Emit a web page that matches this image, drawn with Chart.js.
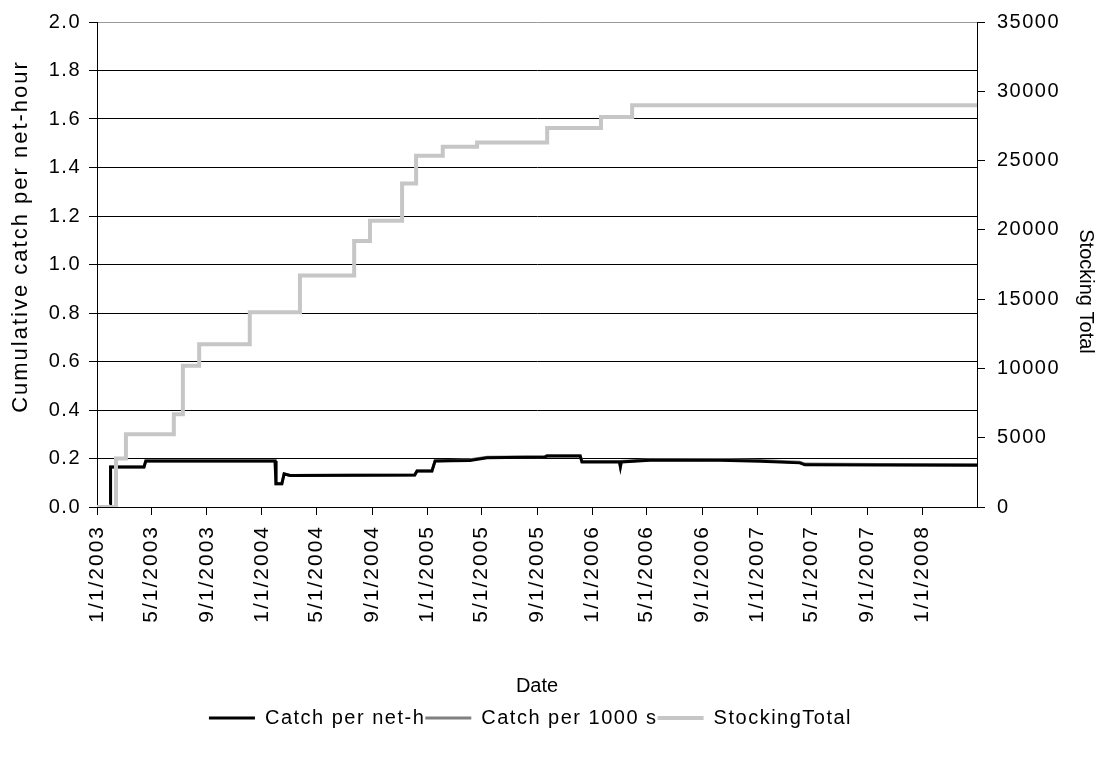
<!DOCTYPE html>
<html>
<head>
<meta charset="utf-8">
<script src="https://cdn.jsdelivr.net/npm/chart.js@4.4.1/dist/chart.umd.min.js"></script>
<style>
  html, body { margin: 0; padding: 0; background: #fff; }
  #wrap { width: 1105px; height: 758px; }
</style>
</head>
<body>
<div id="wrap"><canvas id="chart"></canvas></div>
<script>
// tick labels on the date axis
const dateTicks = ["1/1/2003", "5/1/2003", "9/1/2003", "1/1/2004", "5/1/2004", "9/1/2004",
    "1/1/2005", "5/1/2005", "9/1/2005", "1/1/2006", "5/1/2006", "9/1/2006",
    "1/1/2007", "5/1/2007", "9/1/2007", "1/1/2008"];
const axisStart = "1/1/2003";
const axisEnd = "5/1/2008";

// Catch per net-h (left axis)
const catchDates = ["1/30/2003", "1/31/2003", "4/15/2003", "4/19/2003", "1/30/2004", "2/1/2004",
    "2/14/2004", "2/19/2004", "3/3/2004", "12/4/2004", "12/9/2004", "1/11/2005", "1/18/2005",
    "4/5/2005", "5/13/2005", "9/18/2005", "9/22/2005", "12/5/2005", "12/9/2005", "3/2/2006",
    "3/4/2006", "3/6/2006", "5/8/2006", "10/10/2006", "1/7/2007", "4/5/2007", "4/16/2007",
    "9/29/2007", "5/1/2008"];
const catchValues = [0.01, 0.165, 0.165, 0.19, 0.19, 0.096,
    0.096, 0.137, 0.13, 0.132, 0.148, 0.148, 0.19,
    0.192, 0.203, 0.206, 0.21, 0.21, 0.186, 0.186,
    0.166, 0.186, 0.193, 0.193, 0.189, 0.182, 0.174,
    0.173, 0.172];

// Catch per 1000 s (left axis, mostly hidden under the black line)
const per1000Dates = catchDates;
const per1000Values = [0.01, 0.165, 0.165, 0.19, 0.19, 0.096,
    0.096, 0.137, 0.13, 0.132, 0.148, 0.148, 0.19,
    0.195, 0.205, 0.207, 0.211, 0.211, 0.188, 0.188,
    0.168, 0.188, 0.195, 0.196, 0.192, 0.185, 0.177,
    0.175, 0.174];

// StockingTotal (right axis), value holds from each date on
const stockDates = ["1/1/2003", "2/12/2003", "3/6/2003", "6/20/2003", "7/10/2003", "8/15/2003",
    "12/5/2003", "3/25/2004", "7/23/2004", "8/27/2004", "11/6/2004", "12/7/2004",
    "2/4/2005", "4/21/2005", "9/23/2005", "1/20/2006", "3/30/2006", "5/1/2008"];
const stockValues = [0, 3500, 5250, 6700, 10200, 11750,
    14050, 16700, 19200, 20650, 23350, 25350,
    26000, 26300, 27350, 28150, 29000, 29000];

function dayOf(s) {
    const [m, d, y] = s.split("/").map(Number);
    const [m0, d0, y0] = axisStart.split("/").map(Number);
    return (Date.UTC(y, m - 1, d) - Date.UTC(y0, m0 - 1, d0)) / 86400000;
}
function points(dates, values) {
    return dates.map((d, i) => ({ x: dayOf(d), y: values[i] }));
}

const font = "'Liberation Sans', Arial, sans-serif";
const tickDays = dateTicks.map(dayOf);

// the original text is drawn a little wider than Arial, so space it out
function spaced(ctx, ls, dx, dy, fn) {
    ctx.save();
    ctx.letterSpacing = ls + "px";
    ctx.translate(dx, dy);
    fn();
    ctx.restore();
}
const wideText = {
    id: "wideText",
    beforeLayout(chart) {
        const lg = chart.legend;
        if (!lg || lg._wrapped) return;
        lg._wrapped = true;
        const fit = lg.fit.bind(lg), draw = lg.draw.bind(lg);
        lg.fit = () => spaced(chart.ctx, 1.5, 0, 0, fit);
        lg.draw = () => spaced(chart.ctx, 1.5, -22, 0, draw);
    },
    afterLayout(chart) {
        const spacing = { x: [2, 0, 0], y: [1.5, 2, -28], y1: [1.5, 0, 27] };
        Object.keys(spacing).forEach(id => {
            const s = chart.scales[id];
            if (s._wrapped) return;
            s._wrapped = true;
            const [tickLs, titleLs, shift] = spacing[id];
            const labels = s.drawLabels.bind(s), title = s.drawTitle.bind(s);
            s.drawLabels = area => spaced(chart.ctx, tickLs, 0, 0, () => labels(area));
            s.drawTitle = area => spaced(chart.ctx, titleLs, 0, shift, () => title(area));
        });
    }
};

new Chart(document.getElementById("chart"), {
    type: "line",
    data: {
        datasets: [{
            label: "Catch per net-h",
            data: points(catchDates, catchValues),
            borderColor: "#000000",
            backgroundColor: "#000000",
            borderWidth: 3,
            yAxisID: "y",
            order: 1
        }, {
            label: "Catch per 1000 s",
            data: points(per1000Dates, per1000Values),
            borderColor: "#808080",
            backgroundColor: "#808080",
            borderWidth: 3,
            yAxisID: "y",
            order: 2
        }, {
            label: "StockingTotal",
            data: points(stockDates, stockValues),
            borderColor: "#c6c6c6",
            backgroundColor: "#c6c6c6",
            borderWidth: 4,
            stepped: "before",
            yAxisID: "y1",
            order: 0
        }]
    },
    plugins: [wideText],
    options: {
        responsive: true,
        maintainAspectRatio: false,
        animation: false,
        events: [],
        elements: { point: { radius: 0 }, line: { tension: 0, borderJoinStyle: "miter" } },
        layout: { padding: { top: 15, left: 0, right: 0, bottom: 20 } },
        plugins: {
            tooltip: { enabled: false },
            legend: {
                position: "bottom",
                labels: {
                    color: "#000",
                    font: { family: font, size: 20 },
                    usePointStyle: true,
                    pointStyle: "line",
                    pointStyleWidth: 46,
                    padding: 0,
                    sort: (a, b) => a.datasetIndex - b.datasetIndex
                }
            }
        },
        scales: {
            x: {
                type: "linear",
                min: dayOf(axisStart),
                max: dayOf(axisEnd),
                afterBuildTicks: s => { s.ticks = tickDays.map(v => ({ value: v })); },
                afterFit: s => { s.height = 201; },
                ticks: {
                    autoSkip: false,
                    minRotation: 90,
                    maxRotation: 90,
                    padding: 10,
                    color: "#000",
                    font: { family: font, size: 21 },
                    callback: v => dateTicks[tickDays.indexOf(v)]
                },
                grid: { drawOnChartArea: false, tickLength: 8, color: "#000" },
                border: { color: "#000", width: 1 },
                title: { display: true, text: "Date", color: "#000", font: { family: font, size: 20, lineHeight: 2.2 }, padding: 0 }
            },
            y: {
                position: "left",
                min: 0,
                max: 2,
                afterFit: s => { s.width = 97; },
                ticks: {
                    stepSize: 0.2,
                    padding: 8,
                    color: "#000",
                    font: { family: font, size: 20, lineHeight: 1 },
                    callback: v => v.toFixed(1)
                },
                grid: {
                    color: c => c.tick.value >= 2 ? "#999" : "#000",
                    tickColor: "#000",
                    tickLength: 8
                },
                border: { color: "#000", width: 1 },
                title: { display: true, text: "Cumulative catch per net-hour", color: "#000", font: { family: font, size: 22 }, padding: { top: 8 } }
            },
            y1: {
                position: "right",
                min: 0,
                max: 35000,
                afterFit: s => { s.width = 128; },
                ticks: {
                    stepSize: 5000,
                    padding: 12,
                    color: "#000",
                    font: { family: font, size: 20, lineHeight: 1 },
                    callback: v => String(v)
                },
                grid: { drawOnChartArea: false, tickLength: 8, color: "#000" },
                border: { color: "#000", width: 1 },
                title: { display: true, text: "Stocking Total", color: "#000", font: { family: font, size: 20 }, padding: { top: 7 } }
            }
        }
    }
});
</script>
</body>
</html>
